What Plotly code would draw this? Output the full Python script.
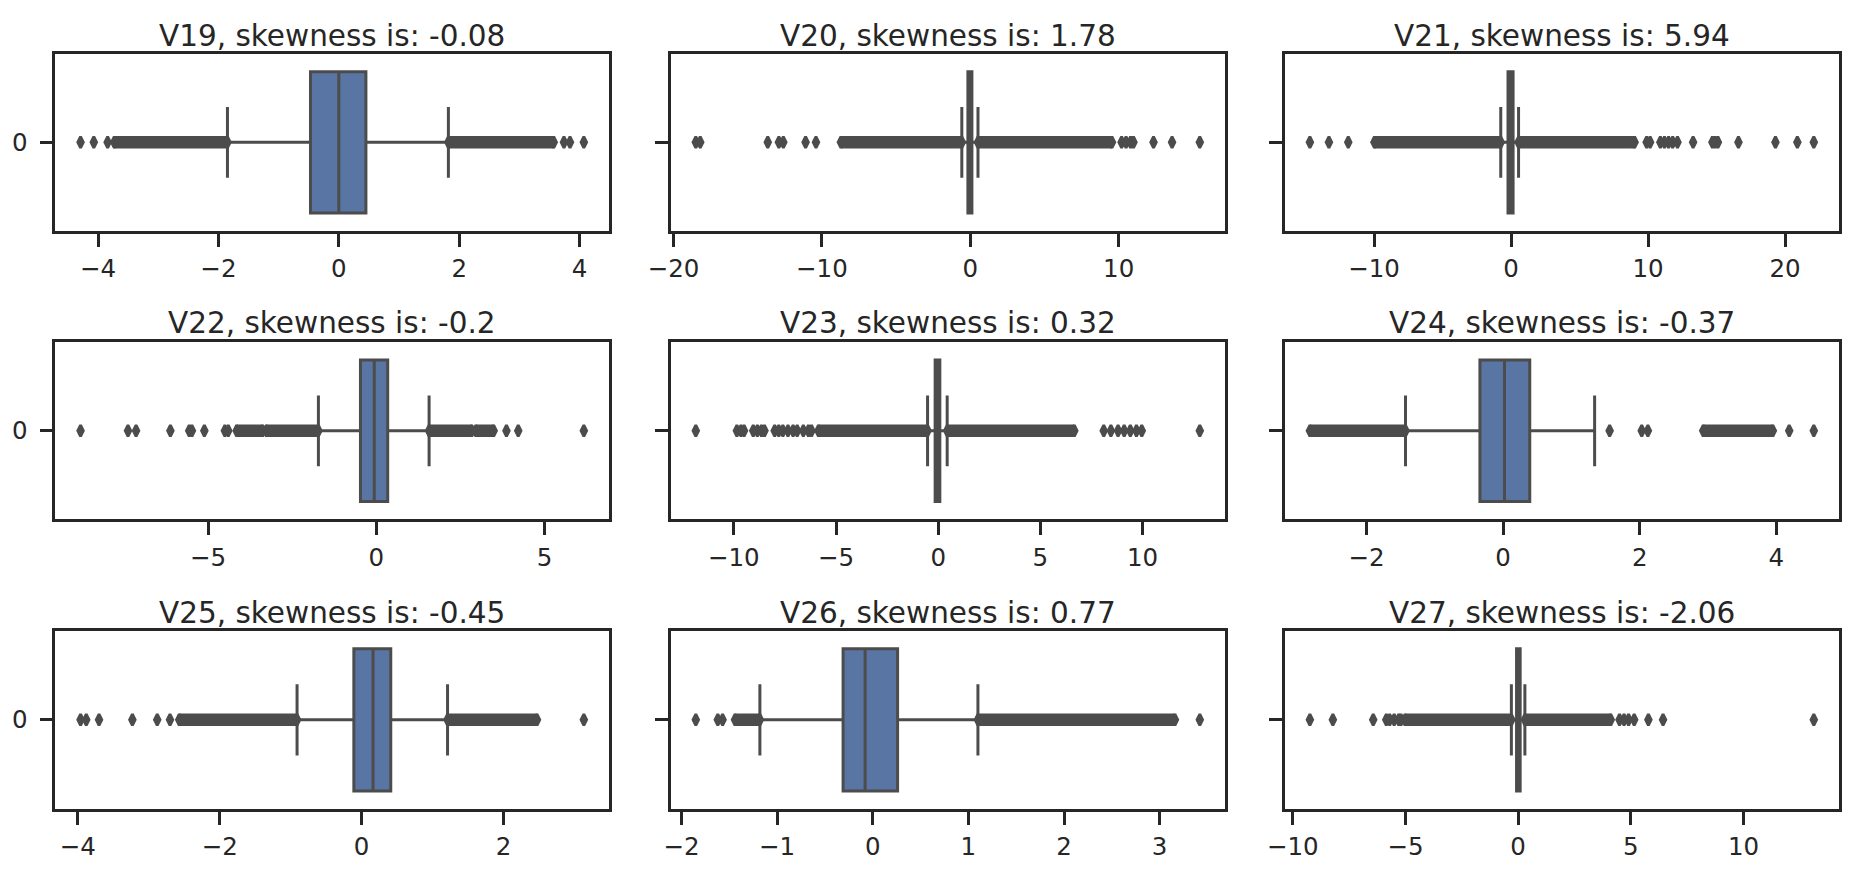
import plotly.graph_objects as go

# ---------------- data ----------------
names = ["V19", "V20", "V21", "V22", "V23", "V24", "V25", "V26", "V27"]
skewness = [-0.08, 1.78, 5.94, -0.2, 0.32, -0.37, -0.45, 0.77, -2.06]

q1_values = [-0.47, -0.16, -0.22, -0.47, -0.15, -0.34, -0.11, -0.31, -0.07]
median_values = [0.0, -0.04, -0.03, -0.06, -0.01, 0.02, 0.16, -0.08, 0.0]
q3_values = [0.45, 0.11, 0.15, 0.34, 0.08, 0.39, 0.41, 0.26, 0.09]
lower_whiskers = [-1.85, -0.57, -0.75, -1.72, -0.52, -1.43, -0.91, -1.18, -0.30]
upper_whiskers = [1.82, 0.52, 0.55, 1.57, 0.44, 1.34, 1.21, 1.10, 0.30]

# isolated outliers (individually visible diamonds)
v19_outliers = [-4.29, -4.07, -3.84, 3.74, 3.84, 4.07]
v20_outliers = [-18.5, -18.2, -13.65, -12.9, -12.6, -11.1, -10.4, 10.2, 10.5, 10.8, 11.0, 12.35, 13.6, 15.47]
v21_outliers = [-14.68, -13.29, -11.88, 9.9, 10.15, 10.9, 11.2, 11.5, 11.8, 12.15, 13.29, 14.7, 14.9, 15.1, 16.6, 19.3, 20.9, 22.1]
v22_outliers = [-8.79, -7.38, -7.14, -6.12, -5.56, -5.48, -5.11, -4.5, -4.4, 3.87, 4.22, 6.17]
v23_outliers = [-11.86, -9.85, -9.65, -9.5, -9.05, -8.85, -8.65, -8.5, -8.0, -7.8, -7.6, -7.35, -7.1, -6.9, -6.6, -6.35, -6.2,
                8.1, 8.45, 8.8, 9.1, 9.4, 9.7, 9.96, 12.8]
v24_outliers = [1.56, 2.03, 2.12, 4.19, 4.55]
v25_outliers = [-3.96, -3.88, -3.70, -3.23, -2.88, -2.70, 3.13]
v26_outliers = [-1.85, -1.62, -1.57, 3.42]
v27_outliers = [-9.24, -8.22, -6.43, -5.85, -5.7, -5.5, -5.3, -5.2, 4.5, 4.7, 4.9, 5.15, 5.78, 6.43, 13.12]

# dense runs of overlapping outliers: (start, end)
v19_dense = [(-3.73, -1.85), (1.82, 3.57)]
v20_dense = [(-8.72, -0.57), (0.52, 9.55)]
v21_dense = [(-9.97, -0.75), (0.55, 9.02)]
v22_dense = [(-4.15, -3.38), (-3.27, -1.72), (1.57, 2.84), (2.96, 3.49)]
v23_dense = [(-5.86, -0.52), (0.44, 6.66)]
v24_dense = [(-2.83, -1.43), (2.93, 3.95)]
v25_dense = [(-2.57, -0.91), (1.21, 2.47)]
v26_dense = [(-1.44, -1.18), (1.10, 3.16)]
v27_dense = [(-5.02, -0.30), (0.30, 4.11)]

tick_values = [
    [-4, -2, 0, 2, 4],
    [-20, -10, 0, 10],
    [-10, 0, 10, 20],
    [-5, 0, 5],
    [-10, -5, 0, 5, 10],
    [-2, 0, 2, 4],
    [-4, -2, 0, 2],
    [-2, -1, 0, 1, 2, 3],
    [-10, -5, 0, 5, 10],
]

outliers = [v19_outliers, v20_outliers, v21_outliers, v22_outliers, v23_outliers,
            v24_outliers, v25_outliers, v26_outliers, v27_outliers]
dense = [v19_dense, v20_dense, v21_dense, v22_dense, v23_dense,
         v24_dense, v25_dense, v26_dense, v27_dense]

# ---------------- styling / layout ----------------
W, H = 1860, 879
BOX_FILL = "#5875a3"
GRAY = "#4c4c4c"
TEXT = "#262626"
FONT = "DejaVu Sans"
LW = 2.7       # frame / ticks
BOX_LW = 3.0   # box, whiskers, median

col_px = [(55.4, 609.0), (670.6, 1225.0), (1284.7, 1839.0)]
row_px = [(54.0, 230.7), (342.3, 519.3), (631.0, 808.7)]
title_center_px = [36.0, 323.5, 613.0]

fig = go.Figure()
layout = dict(
    template="none",
    width=W, height=H,
    margin=dict(l=0, r=0, t=0, b=0, pad=0),
    paper_bgcolor="white", plot_bgcolor="white",
    showlegend=False,
    font=dict(family=FONT, color=TEXT, size=24.5),
)
annotations = []


def minus(v):
    s = f"{v:g}"
    return s.replace("-", "\u2212")


marker_style = dict(symbol="diamond-tall", size=8, color=GRAY, line=dict(color=GRAY, width=2.8))

for i, name in enumerate(names):
    r, c = divmod(i, 3)
    ax = "" if i == 0 else str(i + 1)
    xa, ya = "x" + ax, "y" + ax

    # box
    fig.add_trace(go.Box(
        y=[0], q1=[q1_values[i]], median=[median_values[i]], q3=[q3_values[i]],
        lowerfence=[lower_whiskers[i]], upperfence=[upper_whiskers[i]],
        orientation="h", width=0.8, whiskerwidth=0.5,
        fillcolor=BOX_FILL, line=dict(color=GRAY, width=BOX_LW),
        boxpoints=False, hoverinfo="skip",
        xaxis=xa, yaxis=ya,
    ))

    # dense outlier runs
    bx, by = [], []
    for a, b in dense[i]:
        bx += [a, b, None]
        by += [0, 0, None]
    fig.add_trace(go.Scatter(
        x=bx, y=by, mode="lines+markers",
        line=dict(color=GRAY, width=12.5),
        marker=marker_style,
        hoverinfo="skip", xaxis=xa, yaxis=ya,
    ))

    # isolated outliers
    fig.add_trace(go.Scatter(
        x=outliers[i], y=[0] * len(outliers[i]), mode="markers",
        marker=marker_style,
        hoverinfo="skip", xaxis=xa, yaxis=ya,
    ))

    # axis range: data extent + 5% margin
    vals = list(outliers[i]) + [v for seg in dense[i] for v in seg] + [lower_whiskers[i], upper_whiskers[i]]
    lo, hi = min(vals), max(vals)
    pad = 0.05 * (hi - lo)

    x0, x1 = col_px[c]
    t, b = row_px[r]
    layout["xaxis" + ax] = dict(
        domain=[x0 / W, x1 / W], anchor=ya, automargin=False,
        range=[lo - pad, hi + pad],
        tickmode="array", tickvals=tick_values[i],
        ticktext=[minus(v) for v in tick_values[i]],
        ticks="outside", ticklen=13, tickwidth=LW, tickcolor=TEXT,
        ticklabelstandoff=1,
        showline=True, linewidth=LW, linecolor=TEXT, mirror=True,
        showgrid=False, zeroline=False,
        tickfont=dict(family=FONT, size=24.5, color=TEXT),
        fixedrange=True,
    )
    layout["yaxis" + ax] = dict(
        domain=[1 - b / H, 1 - t / H], anchor=xa, automargin=False,
        range=[0.5, -0.5],
        tickmode="array", tickvals=[0], ticktext=["0"],
        showticklabels=(c == 0),
        ticks="outside", ticklen=13, tickwidth=LW, tickcolor=TEXT,
        ticklabelstandoff=7,
        showline=True, linewidth=LW, linecolor=TEXT, mirror=True,
        showgrid=False, zeroline=False,
        tickfont=dict(family=FONT, size=24.5, color=TEXT),
        fixedrange=True,
    )
    annotations.append(dict(
        text=f"{name}, skewness is: {skewness[i]}",
        x=(x0 + x1) / 2 / W, y=1 - title_center_px[r] / H,
        xref="paper", yref="paper", xanchor="center", yanchor="middle",
        showarrow=False, font=dict(family=FONT, size=29.5, color=TEXT),
    ))

layout["annotations"] = annotations
fig.update_layout(**layout)
fig.write_html(
    "out.html",
    config={"displayModeBar": False},
    post_script="document.body.style.margin='0px'; document.body.style.overflow='hidden';",
)
